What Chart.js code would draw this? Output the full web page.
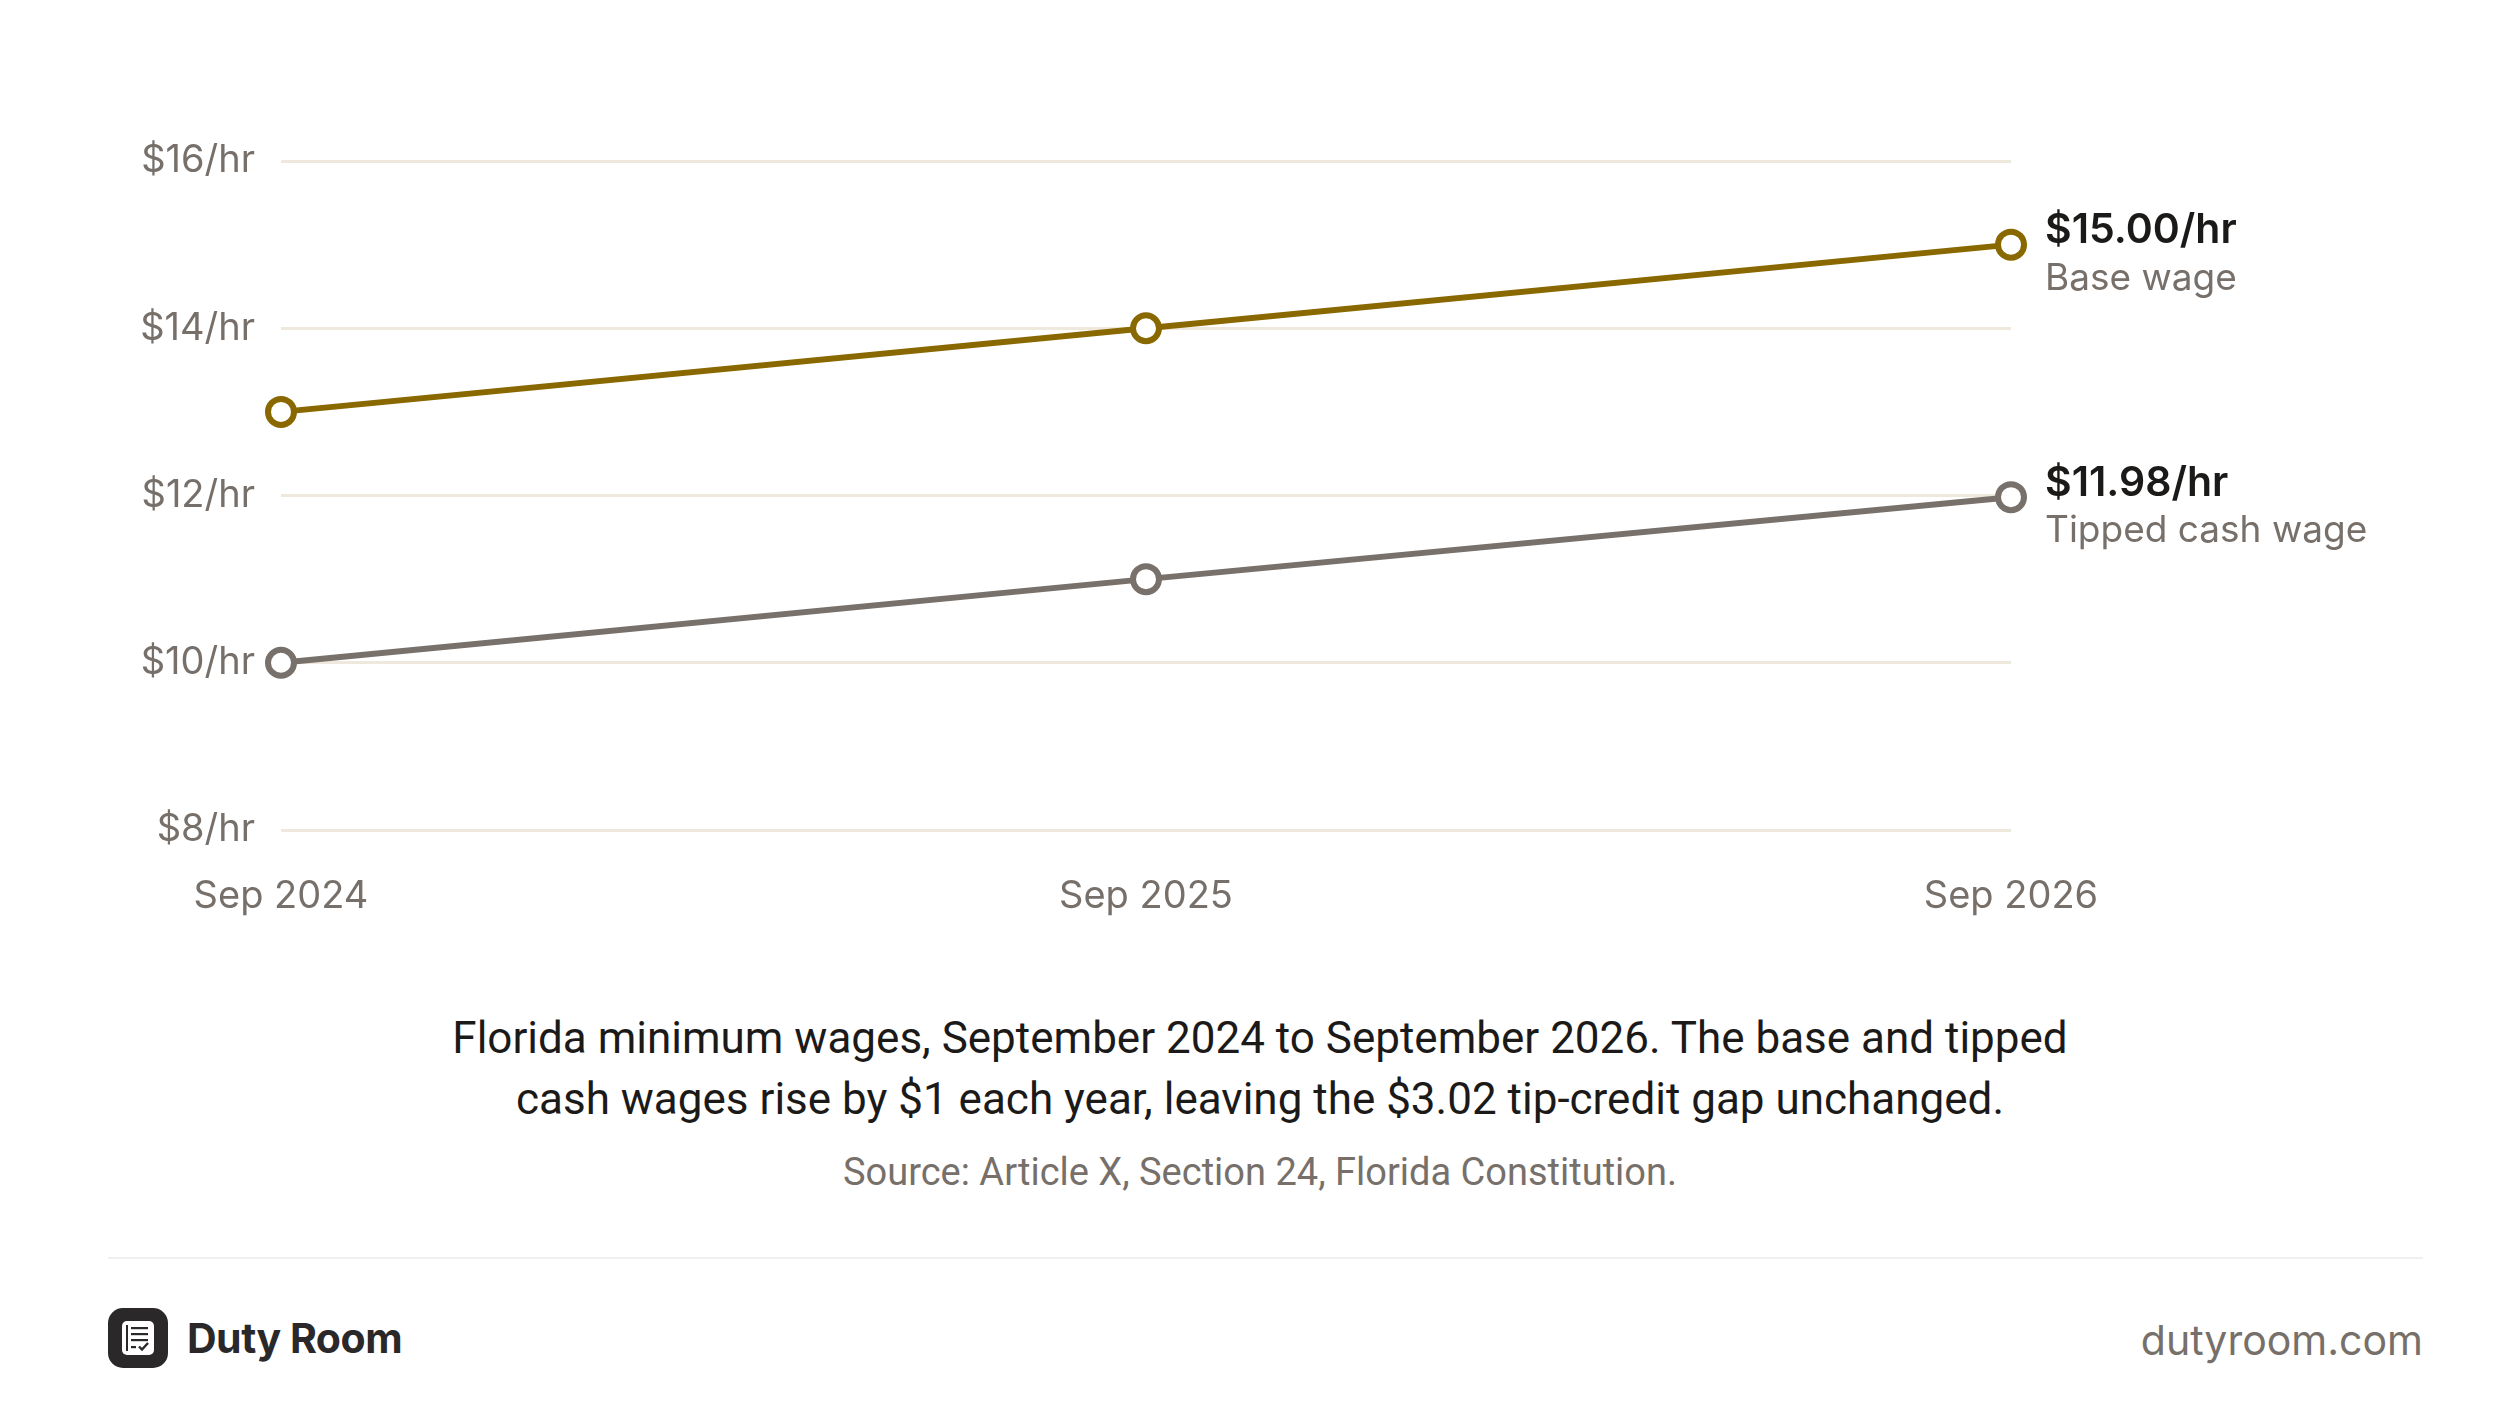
<!DOCTYPE html>
<html>
<head>
<meta charset="utf-8">
<script src="https://cdn.jsdelivr.net/npm/chart.js@4"></script>
<style>
  html, body { margin: 0; padding: 0; background: #fff; }
  body { width: 2520px; height: 1422px; position: relative; overflow: hidden; font-family: Inter, "Noto Sans", sans-serif; }
  #chartBox { position: absolute; left: 0; top: 0; width: 2520px; height: 960px; }
  .caption { position: absolute; left: 0; width: 2520px; text-align: center; font-family: Roboto, sans-serif; color: #1c1a18; }
  #note { top: 1008px; font-size: 44px; line-height: 61px; }
  #source { top: 1150px; font-size: 38px; color: #77706a; }
  #rule { position: absolute; left: 108px; width: 2315px; top: 1257px; height: 2px; background: #f1f0ee; }
  #brand { position: absolute; left: 108px; top: 1308px; height: 60px; display: flex; align-items: center; }
  #brand span { margin-left: 19px; font-size: 41px; font-weight: 700; color: #2a2828; letter-spacing: -0.5px; }
  #site { position: absolute; right: 97px; top: 1310px; font-size: 41px; color: #77706a; line-height: 60px; }
</style>
</head>
<body>
<div id="chartBox"><canvas id="wageChart"></canvas></div>
<div class="caption" id="note">Florida minimum wages, September 2024 to September 2026. The base and tipped<br>cash wages rise by $1 each year, leaving the $3.02 tip-credit gap unchanged.</div>
<div class="caption" id="source">Source: Article X, Section 24, Florida Constitution.</div>
<div id="rule"></div>
<div id="brand">
  <svg width="60" height="60" viewBox="0 0 60 60">
    <rect x="0" y="0" width="60" height="60" rx="15" fill="#2a2828"/>
    <rect x="14" y="13" width="32" height="34" rx="5" fill="#fff"/>
    <rect x="18" y="17" width="2" height="26" fill="#2a2828"/>
    <rect x="23" y="19" width="17" height="2.2" fill="#2a2828"/>
    <rect x="23" y="25" width="17" height="2.2" fill="#2a2828"/>
    <rect x="23" y="31" width="17" height="2.2" fill="#2a2828"/>
    <rect x="23" y="38" width="5" height="2.2" fill="#2a2828"/>
    <path d="M31 38.5 L34 41.5 L40 35" stroke="#2a2828" stroke-width="2.4" fill="none"/>
  </svg>
  <span>Duty Room</span>
</div>
<div id="site">dutyroom.com</div>

<script>
// ---------------------------------------------------------------
//   data
// ---------------------------------------------------------------

const periods = ['Sep 2024', 'Sep 2025', 'Sep 2026'];
const baseWage = [13.00, 14.00, 15.00];
const tippedWage = [10.00, 11.00, 11.98];
const seriesNames = ['Base wage', 'Tipped cash wage'];
const endLabels = ['$15.00/hr', '$11.98/hr'];
const yTicks = [8, 10, 12, 14, 16];

const GOLD = '#8a6800';
const STONE = '#78706a';
const MUTED = '#77706a';

// ---------------------------------------------------------------
//   end-of-line labels
// ---------------------------------------------------------------

const endLabelPlugin = {
    id: 'endLabels',
    afterDatasetsDraw(chart) {
        const ctx = chart.ctx;
        chart.data.datasets.forEach((ds, i) => {
            const meta = chart.getDatasetMeta(i);
            const last = meta.data[meta.data.length - 1];
            if (!last) return;
            const x = last.x + 34;
            ctx.save();
            ctx.textAlign = 'left';
            ctx.textBaseline = 'middle';
            ctx.fillStyle = '#1c1a18';
            ctx.font = '600 41px Inter';
            ctx.fillText(endLabels[i], x, last.y - 14);
            ctx.fillStyle = MUTED;
            ctx.font = '400 37px Inter';
            ctx.fillText(seriesNames[i], x, last.y + 34);
            ctx.restore();
        });
    }
};

function lineSet(label, values, colour) {
    return {
        label: label,
        data: values,
        borderColor: colour,
        borderWidth: 6,
        pointRadius: 13,
        pointHoverRadius: 13,
        pointBorderWidth: 6,
        pointBackgroundColor: '#ffffff',
        pointBorderColor: colour,
        tension: 0
    };
}

const ctx = document.getElementById('wageChart').getContext('2d');

window.wageChart = new Chart(ctx, {
    type: 'line',
    data: {
        labels: periods,
        datasets: [
            lineSet(seriesNames[0], baseWage, GOLD),
            lineSet(seriesNames[1], tippedWage, STONE)
        ]
    },
    options: {
        responsive: true,
        maintainAspectRatio: false,
        animation: false,
        devicePixelRatio: 1,
        layout: { padding: { left: 0, right: 509, top: 161, bottom: 0 } },
        plugins: {
            legend: { display: false },
            tooltip: { enabled: false }
        },
        scales: {
            x: {
                offset: false,
                grid: { display: false, drawTicks: false },
                border: { display: false },
                ticks: {
                    color: MUTED,
                    font: { family: 'Inter', size: 38 },
                    padding: 44,
                    maxRotation: 0
                },
                afterFit(scale) { scale.height = 130; }
            },
            y: {
                min: 8,
                max: 16,
                afterBuildTicks(scale) { scale.ticks = yTicks.map(v => ({ value: v })); },
                grid: { color: '#eee9dc', lineWidth: 3, drawTicks: false },
                border: { display: false },
                ticks: {
                    color: MUTED,
                    font: { family: 'Inter', size: 38 },
                    padding: 26,
                    callback: v => '$' + v + '/hr'
                },
                afterFit(scale) { scale.width = 281; }
            }
        }
    },
    plugins: [endLabelPlugin]
});
</script>
</body>
</html>
